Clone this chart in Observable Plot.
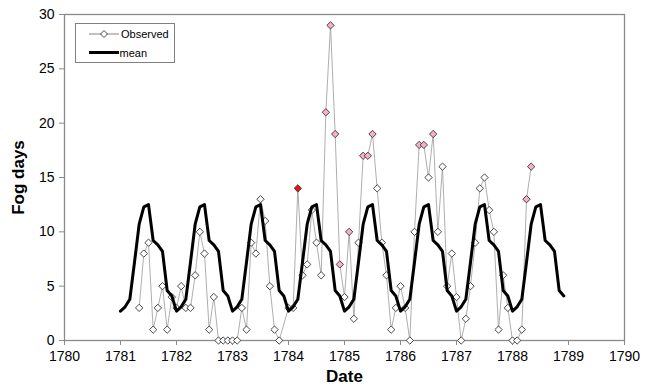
<!DOCTYPE html>
<html>
<head>
<meta charset="utf-8">
<script src="https://cdn.jsdelivr.net/npm/d3@7"></script>
<script src="https://cdn.jsdelivr.net/npm/@observablehq/plot@0.6"></script>
<style>
  html, body { margin: 0; padding: 0; background: #fff; }
  #chart { position: relative; width: 651px; height: 387px; font-family: "Liberation Sans", Arial, sans-serif; }
  #legend { position: absolute; left: 75px; top: 23px; width: 98px; height: 38px; border: 1px solid #808080; background: #fff; font-size: 11px; }
  #legend svg { position: absolute; left: 0; top: 0; }
</style>
</head>
<body>
<div id="chart"></div>
<script>
// Observed monthly fog days (date "YYYY-MM")
const obsDates = [
  "1781-05","1781-06","1781-07","1781-08","1781-09","1781-10","1781-11","1781-12",
  "1782-01","1782-02","1782-03","1782-04","1782-05","1782-06","1782-07","1782-08","1782-09","1782-10","1782-11","1782-12",
  "1783-01","1783-02","1783-03","1783-04","1783-05","1783-06","1783-07","1783-08","1783-09","1783-10","1783-11",
  "1784-01","1784-02","1784-03","1784-04","1784-05","1784-06","1784-07","1784-08","1784-09","1784-10","1784-11","1784-12",
  "1785-01","1785-02","1785-03","1785-04","1785-05","1785-06","1785-07","1785-08","1785-09","1785-10","1785-11","1785-12",
  "1786-01","1786-02","1786-03","1786-04","1786-05","1786-06","1786-07","1786-08","1786-09","1786-10","1786-11","1786-12",
  "1787-01","1787-02","1787-03","1787-04","1787-05","1787-06","1787-07","1787-08","1787-09","1787-10","1787-11","1787-12",
  "1788-01","1788-02","1788-03","1788-04","1788-05"
];
const obsValues = [
  3,8,9,1,3,5,1,4,
  3,5,3,3,6,10,8,1,4,0,0,0,
  0,0,3,1,9,8,13,11,5,1,0,
  3,3,14,6,7,12,9,6,21,29,19,7,
  4,10,2,9,17,17,19,14,9,6,1,3,
  5,3,0,10,18,18,15,19,10,16,5,8,
  4,0,2,5,9,14,15,12,10,1,6,3,
  0,0,1,13,16
];
// n = normal, h = high (pink), x = extreme (red)
const obsStatus = [
  "n","n","n","n","n","n","n","n",
  "n","n","n","n","n","n","n","n","n","n","n","n",
  "n","n","n","n","n","n","n","n","n","n","n",
  "n","n","x","n","n","n","n","n","h","h","h","h",
  "n","h","n","n","h","h","h","n","n","n","n","n",
  "n","n","n","n","h","h","n","h","n","n","n","n",
  "n","n","n","n","n","n","n","n","n","n","n","n",
  "n","n","n","h","h"
];
// Monthly mean fog days (Jan..Dec), shown for each year
const meanMonthly = [2.7, 3.1, 3.8, 7.2, 10.7, 12.3, 12.5, 9.2, 8.8, 8.2, 4.6, 4.1];
const meanYears = [1781, 1782, 1783, 1784, 1785, 1786, 1787, 1788];
const xTicks = [1780,1781,1782,1783,1784,1785,1786,1787,1788,1789,1790];
const yTicks = [0,5,10,15,20,25,30];

const toYear = (s) => { const [y, m] = s.split("-").map(Number); return y + (m - 1) / 12; };
const observed = obsDates.map((d, i) => ({ t: toYear(d), v: obsValues[i], s: obsStatus[i] }));
const meanData = meanYears.flatMap(y => meanMonthly.map((v, m) => ({ t: y + m / 12, v })));
const fillFor = { n: "#ffffff", h: "#f7b0c4", x: "#ee1111" };

const gray = "#8a8a8a";
const plot = Plot.plot({
  width: 651,
  height: 387,
  marginLeft: 64,
  marginRight: 27,
  marginTop: 14,
  marginBottom: 47,
  style: { fontFamily: "'Liberation Sans', Arial, sans-serif", fontSize: "14px", background: "#fff", color: "#000" },
  x: { domain: [1780, 1790], label: null },
  y: { domain: [0, 30], label: null },
  marks: [
    Plot.frame({ stroke: gray, strokeWidth: 1.3 }),
    Plot.axisY({ ticks: yTicks, tickSize: 5, tickPadding: 5, stroke: gray, fontSize: 14, label: null, tickFormat: d => String(d) }),
    Plot.axisX({ ticks: xTicks, tickSize: 5, tickPadding: 6, stroke: gray, fontSize: 14, label: null, tickFormat: d => String(d) }),
    Plot.line(observed, { x: "t", y: "v", stroke: "#999", strokeWidth: 0.8 }),
    Plot.dot(observed, { x: "t", y: "v", symbol: "diamond2", r: 3.3, fill: d => fillFor[d.s], stroke: "#333", strokeWidth: 0.9 }),
    Plot.line(meanData, { x: "t", y: "v", stroke: "#000", strokeWidth: 3, strokeLinejoin: "round" }),
    Plot.text(["Fog days"], { frameAnchor: "left", dx: -46, rotate: -90, fontWeight: "bold", fontSize: 17, lineAnchor: "middle", textAnchor: "middle" }),
    Plot.text(["Date"], { frameAnchor: "bottom", dy: 36, fontWeight: "bold", fontSize: 17, lineAnchor: "middle", textAnchor: "middle" })
  ]
});
const chart = document.getElementById("chart");
chart.appendChild(plot);

const legend = document.createElement("div");
legend.id = "legend";
legend.innerHTML = `<svg width="98" height="38" xmlns="http://www.w3.org/2000/svg">
  <line x1="13" y1="10" x2="43" y2="10" stroke="#666" stroke-width="0.8"/>
  <path d="M28,6.5 L31.5,10 L28,13.5 L24.5,10 Z" fill="#fff" stroke="#333" stroke-width="0.9"/>
  <text x="45" y="14" font-size="11" font-family="'Liberation Sans', Arial, sans-serif">Observed</text>
  <line x1="13" y1="28.5" x2="43" y2="28.5" stroke="#000" stroke-width="3"/>
  <text x="43.5" y="32.5" font-size="11" font-family="'Liberation Sans', Arial, sans-serif">mean</text>
</svg>`;
chart.appendChild(legend);
</script>
</body>
</html>
